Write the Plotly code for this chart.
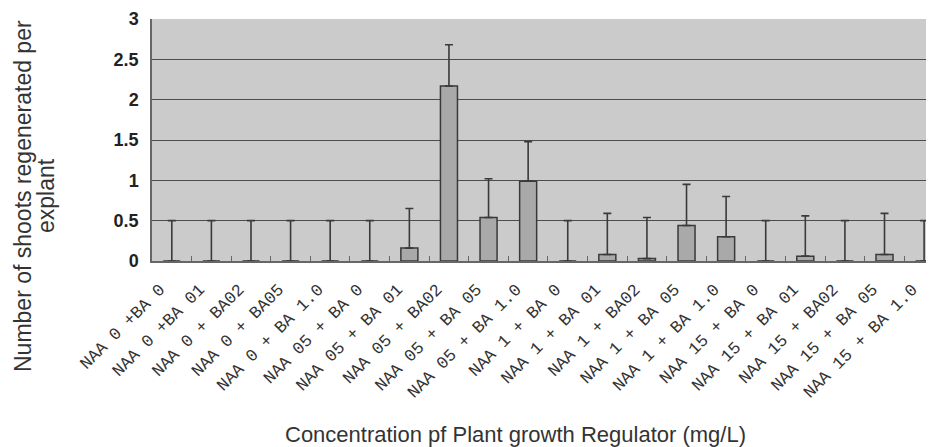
import plotly.graph_objects as go

categories = [
    "NAA 0 +BA 0", "NAA 0 +BA 01", "NAA 0 + BA02", "NAA 0 + BA05", "NAA 0 + BA 1.0",
    "NAA 05 + BA 0", "NAA 05 + BA 01", "NAA 05 + BA02", "NAA 05 + BA 05", "NAA 05 + BA 1.0",
    "NAA 1 + BA 0", "NAA 1 + BA 01", "NAA 1 + BA02", "NAA 1 + BA 05", "NAA 1 + BA 1.0",
    "NAA 15 + BA 0", "NAA 15 + BA 01", "NAA 15 + BA02", "NAA 15 + BA 05", "NAA 15 + BA 1.0",
]
means = [0, 0, 0, 0, 0, 0, 0.16, 2.17, 0.54, 0.99, 0, 0.08, 0.03, 0.44, 0.30, 0, 0.06, 0, 0.08, 0]
errors = [0.5, 0.5, 0.5, 0.5, 0.5, 0.5, 0.49, 0.51, 0.48, 0.49, 0.5, 0.51, 0.51, 0.51, 0.50, 0.5, 0.50, 0.5, 0.51, 0.5]
y_ticks = [0, 0.5, 1, 1.5, 2, 2.5, 3]

# page is rendered with an 8px body margin; figure is sized to compensate
W, H = 926, 439
L, T, B = 144, 11, 186
PW, PH = W - L, H - T - B


def px(x):  # page x -> paper x
    return (x - 8 - L) / PW


def py(y):  # page y -> paper y
    return (H - B - (y - 8)) / PH


fig = go.Figure(go.Bar(
    x=categories, y=means, width=0.43,
    marker=dict(color="#a9a9a9", line=dict(color="#3a3a3a", width=1.5)),
    error_y=dict(type="data", array=errors, arrayminus=[0] * len(errors), symmetric=False,
                 color="#3a3a3a", thickness=1.6, width=4),
))

title_font = dict(family="Arial, Liberation Sans, sans-serif", size=23, color="#333")

fig.update_layout(
    width=W, height=H,
    margin=dict(l=L, r=0, t=T, b=B, autoexpand=False),
    paper_bgcolor="white", plot_bgcolor="#cbcbcb",
    showlegend=False,
    xaxis=dict(range=[-0.5, 19.25], tickangle=-45, ticks="inside", tickson="boundaries",
               ticklen=5, tickcolor="#666", showgrid=False, showline=True, linecolor="#666",
               linewidth=1.5, automargin=False, ticklabelstandoff=10, ticklabelshift=-12,
               tickfont=dict(family="Liberation Mono, Courier New, monospace", size=17, color="#333")),
    yaxis=dict(range=[0, 3], tickvals=y_ticks, ticktext=[str(v) for v in y_ticks],
               showgrid=True, gridcolor="#4d4d4d", gridwidth=1.3, zeroline=False,
               showline=True, linecolor="#666", linewidth=1.5, ticks="", automargin=False,
               ticklabelstandoff=8,
               tickfont=dict(family="Arial, Liberation Sans, sans-serif", size=18, color="#222",
                             weight="bold")),
    annotations=[
        dict(text="Concentration pf Plant growth Regulator (mg/L)", xref="paper", yref="paper",
             x=px(515), y=py(434), xanchor="center", yanchor="middle",
             showarrow=False, font=dict(family="Arial, Liberation Sans, sans-serif", size=22, color="#333")),
        dict(text="Number of shoots regenerated per", xref="paper", yref="paper",
             x=px(23), y=py(196), xanchor="center", yanchor="middle",
             textangle=-90, showarrow=False, font=title_font),
        dict(text="explant", xref="paper", yref="paper",
             x=px(46), y=py(196), xanchor="center", yanchor="middle",
             textangle=-90, showarrow=False, font=title_font),
    ],
)

fig.write_html("out.html")
